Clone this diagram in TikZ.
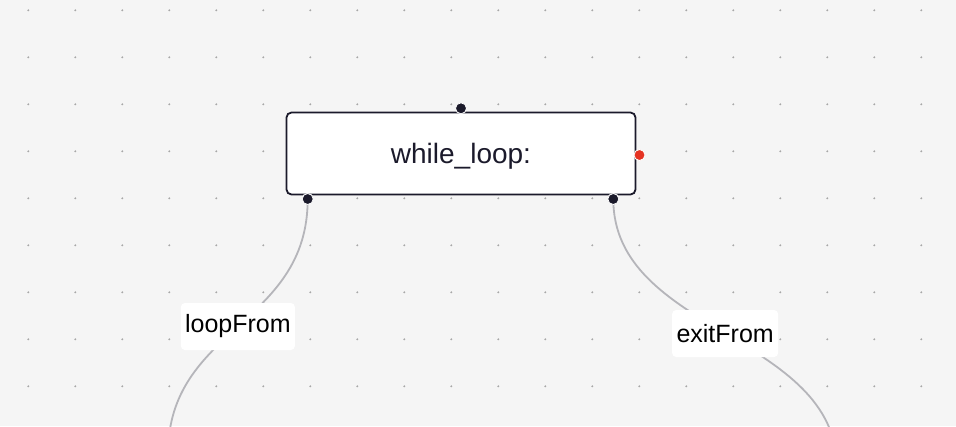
\documentclass[tikz,border=0pt]{standalone}
\usepackage{fontspec}
\setmainfont{Liberation Sans}
\definecolor{canvas}{HTML}{F5F5F5}
\definecolor{griddot}{HTML}{A8A8A8}
\definecolor{ink}{HTML}{1B1A2B}
\definecolor{wire}{HTML}{B5B5BA}
\definecolor{hotred}{HTML}{E53323}
\begin{document}
\begin{tikzpicture}[x=1pt, y=-1pt,
	handle/.style={circle, fill=ink, draw=white, line width=0.8pt, inner sep=0pt, minimum size=11pt},
	edgelabel/.style={fill=white, rounded corners=4pt, inner sep=0pt, minimum height=47pt, text=black, font=\fontsize{25}{28}\selectfont}]
		\tikzstyle{every node}=[align=center]
		\fill[canvas] (0, 0) rectangle (956, 426);
		\useasboundingbox (0, 0) rectangle (956, 426);
		\clip (0, 0) rectangle (956, 426);
		% dot grid
		\foreach \i in {0,...,19}
			\foreach \j in {0,...,8}
				\fill[griddot] (28.3+47*\i, 10.3+47*\j) circle (1.1pt);
		\node (whileloop) at (461, 153.5) [draw=ink, line width=1.8pt, fill=white, rounded corners=5pt,
			minimum width=349pt, minimum height=82pt, text=ink, font=\fontsize{28}{30}\selectfont] {\raisebox{-3pt}[\height][\depth]{while\_loop:}};
		\node (top) at (461, 108.3) [handle] {};
		\node (right) at (639.5, 155) [handle, fill=hotred] {};
		\node (bl) at (307.7, 199) [handle] {};
		\node (br) at (613.3, 199) [handle] {};
		\coordinate (loopEnd) at (168, 454);
		\coordinate (exitEnd) at (837, 468);
		\draw [wire, line width=1.8pt] (bl.center) .. controls +(0, 127) and +(0, -127) .. (loopEnd)
			node[pos=0.5, edgelabel, minimum width=114pt] (loopFrom) {loopFrom};
		\draw [wire, line width=1.8pt] (br.center) .. controls +(0, 134) and +(0, -134) .. (exitEnd)
			node[pos=0.5, edgelabel, minimum width=106pt] (exitFrom) {exitFrom};
		\node (blDot) at (bl) [handle] {};
		\node (brDot) at (br) [handle] {};
\end{tikzpicture}
\end{document}
